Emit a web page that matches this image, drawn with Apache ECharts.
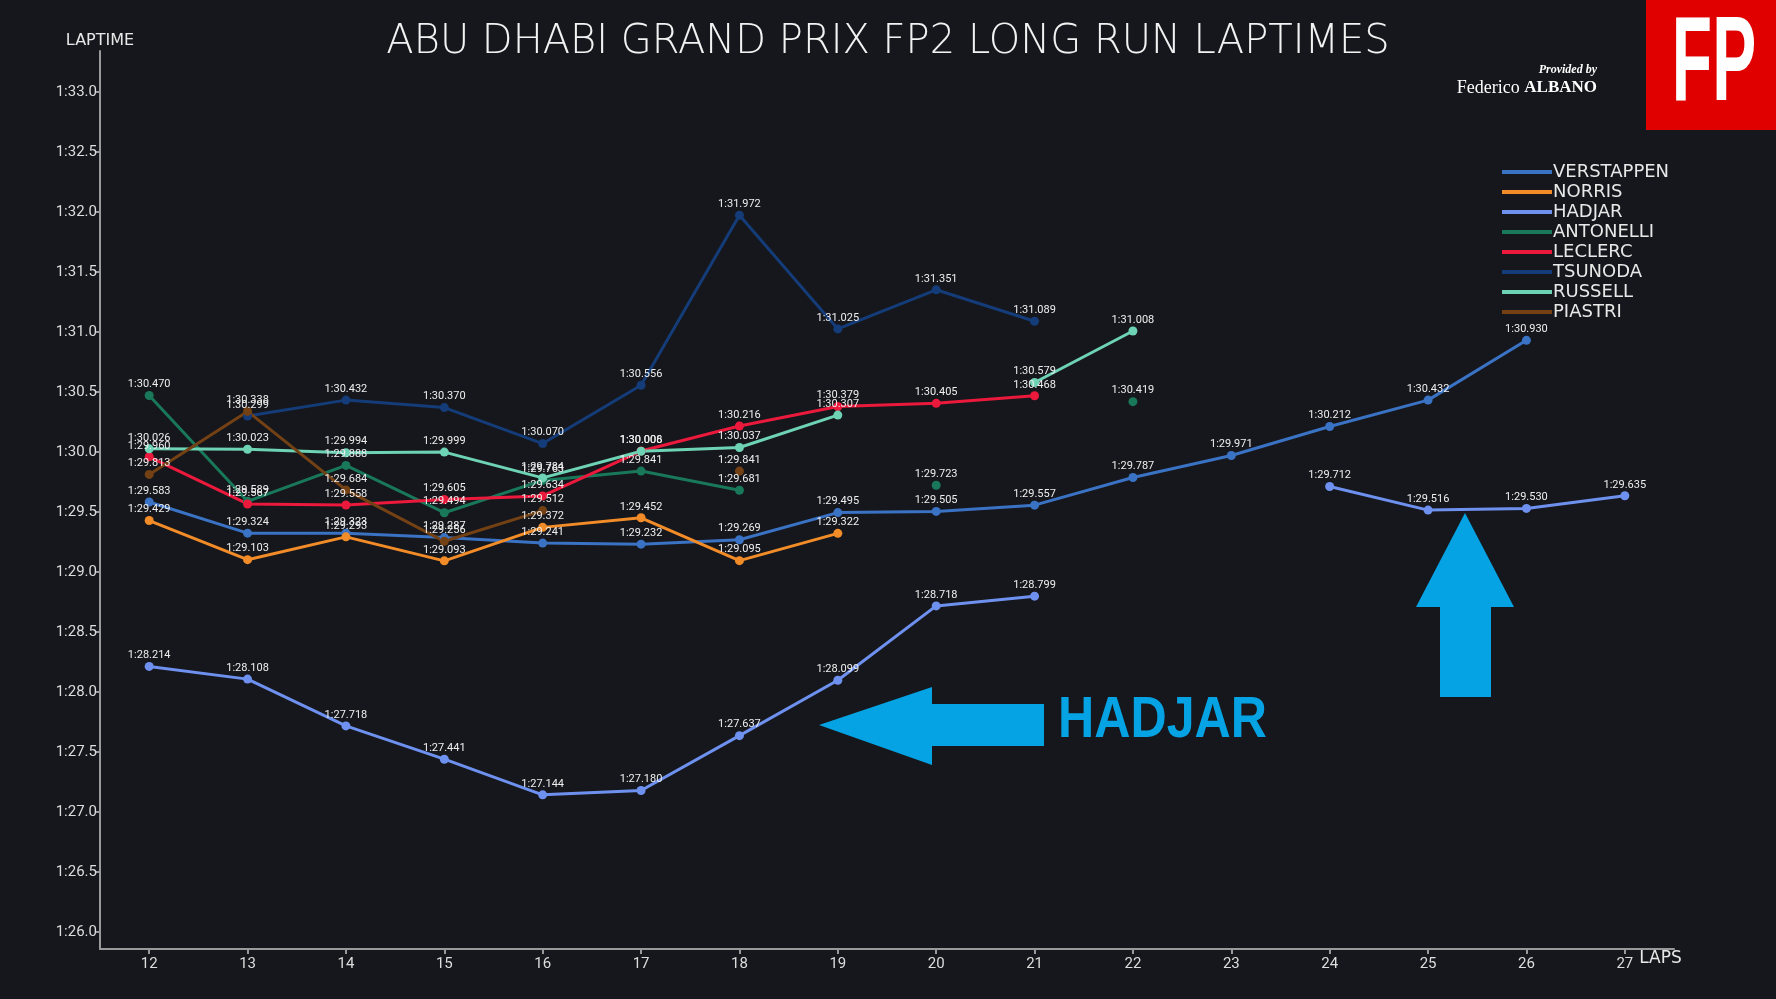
<!DOCTYPE html>
<html>
<head>
<meta charset="utf-8">
<script src="https://cdn.jsdelivr.net/npm/echarts@6/dist/echarts.min.js"></script>
<style>
html,body{margin:0;padding:0;background:#16171c;}
#chart{width:1776px;height:999px;}
</style>
</head>
<body>
<div id="chart"></div>
<script>
const laps = [12, 13, 14, 15, 16, 17, 18, 19, 20, 21, 22, 23, 24, 25, 26, 27];
const drivers = ['VERSTAPPEN', 'NORRIS', 'HADJAR', 'ANTONELLI', 'LECLERC', 'TSUNODA', 'RUSSELL', 'PIASTRI'];
const verstappen = [89.583, 89.324, 89.323, 89.287, 89.241, 89.232, 89.269, 89.495, 89.505, 89.557, 89.787, 89.971, 90.212, 90.432, 90.930, null];
const norris     = [89.429, 89.103, 89.293, 89.093, 89.372, 89.452, 89.095, 89.322, null, null, null, null, null, null, null, null];
const hadjar     = [88.214, 88.108, 87.718, 87.441, 87.144, 87.180, 87.637, 88.099, 88.718, 88.799, null, null, 89.712, 89.516, 89.530, 89.635];
const antonelli  = [90.470, 89.589, 89.888, 89.494, 89.763, 89.841, 89.681, null, 89.723, null, 90.419, null, null, null, null, null];
const leclerc    = [89.960, 89.567, 89.558, 89.605, 89.634, 90.008, 90.216, 90.379, 90.405, 90.468, null, null, null, null, null, null];
const tsunoda    = [null, 90.299, 90.432, 90.370, 90.070, 90.556, 91.972, 91.025, 91.351, 91.089, null, null, null, null, null, null];
const russell    = [90.026, 90.023, 89.994, 89.999, 89.784, 90.006, 90.037, 90.307, null, 90.579, 91.008, null, null, null, null, null];
const piastri    = [89.813, 90.338, 89.684, 89.256, 89.512, null, 89.841, null, null, null, null, null, null, null, null, null];
const yTicks = [86, 86.5, 87, 87.5, 88, 88.5, 89, 89.5, 90, 90.5, 91, 91.5, 92, 92.5, 93];

const seriesValues = [verstappen, norris, hadjar, antonelli, leclerc, tsunoda, russell, piastri];
const colors = ['#3a72c4', '#f28c28', '#6e91f0', '#19785a', '#eb193c', '#143c78', '#6ed2b4', '#734114'];

function fmtLap(v, dec) {
  const m = Math.floor(v / 60);
  const s = v - m * 60;
  let str = s.toFixed(dec);
  if (s < 10) str = '0' + str;
  return m + ':' + str;
}

const chart = echarts.init(document.getElementById('chart'), null, {renderer: 'canvas'});

const series = drivers.map((name, i) => ({
  name: name,
  type: 'line',
  data: laps.map((l, j) => [l, seriesValues[i][j] == null ? '-' : seriesValues[i][j]]),
  connectNulls: false,
  symbol: 'circle',
  symbolSize: 9,
  showAllSymbol: true,
  lineStyle: {width: 3, color: colors[i]},
  itemStyle: {color: colors[i]},
  emphasis: {disabled: true},
  label: {
    show: true,
    position: 'top',
    distance: 1,
    color: '#eeeeee',
    fontSize: 11,
    fontFamily: 'Roboto',
    formatter: p => fmtLap(p.value[1], 3)
  },
  animation: false
}));

const option = {
  backgroundColor: '#16171c',
  animation: false,
  color: colors,
  title: {
    text: 'ABU DHABI GRAND PRIX FP2 LONG RUN LAPTIMES',
    left: 'center',
    top: 18,
    textStyle: {color: '#f2f2f2', fontSize: 40, fontWeight: 300, fontFamily: "'DejaVu Sans ExtraLight', 'DejaVu Sans'"}
  },
  legend: {
    orient: 'vertical',
    left: 1497,
    top: 157,
    icon: 'rect',
    itemWidth: 50,
    itemHeight: 4,
    itemGap: 0,
    data: drivers,
    textStyle: {color: '#e8e8e8', fontSize: 18, fontFamily: 'DejaVu Sans', lineHeight: 20, padding: [0, 0, 0, -4]}
  },
  grid: {left: 100, right: 102, top: 51, bottom: 50, containLabel: false},
  xAxis: {
    type: 'value',
    min: 11.5,
    max: 27.5,
    name: 'LAPS',
    nameLocation: 'end',
    nameGap: 0,
    nameTextStyle: {color: '#e8e8e8', fontSize: 17, fontFamily: 'DejaVu Sans', align: 'right', verticalAlign: 'top', padding: [1, 12, 0, 0]},
    axisLine: {show: true, lineStyle: {color: '#9a9a9a', width: 2}},
    axisTick: {show: true, length: 5, lineStyle: {color: '#9a9a9a', width: 2}, customValues: laps},
    axisLabel: {color: '#dddddd', fontSize: 15, fontFamily: 'Roboto', margin: 8, customValues: laps, formatter: v => String(v)},
    splitLine: {show: false}
  },
  yAxis: {
    type: 'value',
    min: 85.86,
    max: 93.34,
    name: 'LAPTIME',
    nameLocation: 'end',
    nameGap: 2,
    nameTextStyle: {color: '#e8e8e8', fontSize: 16, fontFamily: 'DejaVu Sans', align: 'center'},
    axisLine: {show: true, lineStyle: {color: '#9a9a9a', width: 2}},
    axisTick: {show: true, length: 5, lineStyle: {color: '#9a9a9a', width: 2}, customValues: yTicks},
    axisLabel: {color: '#dddddd', fontSize: 15, fontFamily: 'Roboto', margin: 3, customValues: yTicks, formatter: v => fmtLap(v, 1)},
    splitLine: {show: false}
  },
  graphic: [
    {type: 'rect', shape: {x: 1646, y: 0, width: 130, height: 130}, style: {fill: '#e00000'}, z: 10},
    {type: 'text', x: 1714, y: 67, scaleX: 0.55, z: 11,
      style: {text: 'FP', fill: '#ffffff', font: "bold 120px 'Liberation Sans', Arial, sans-serif", align: 'center', verticalAlign: 'middle'}},
    {type: 'text', x: 1597, y: 70, z: 11,
      style: {text: 'Provided by', fill: '#ffffff', font: "italic bold 12px 'Liberation Serif', serif", align: 'right', verticalAlign: 'middle'}},
    {type: 'text', x: 1597, y: 88, z: 11,
      style: {text: '{a|Federico }{b|ALBANO}', fill: '#ffffff', align: 'right', verticalAlign: 'middle',
        rich: {a: {fontFamily: 'Liberation Serif', fontSize: 18, fill: '#ffffff', color: '#ffffff'},
               b: {fontFamily: 'Liberation Serif', fontSize: 17, fontWeight: 'bold', fill: '#ffffff', color: '#ffffff'}}}},
    {type: 'polygon', z: 20, shape: {points: [[819,725],[932,687],[932,704],[1044,704],[1044,746],[932,746],[932,765]]}, style: {fill: '#05a3e3'}},
    {type: 'polygon', z: 20, shape: {points: [[1465,513],[1514,607],[1491,607],[1491,697],[1440,697],[1440,607],[1416,607]]}, style: {fill: '#05a3e3'}},
    {type: 'text', x: 1058, y: 721, scaleX: 0.88, z: 20,
      style: {text: 'HADJAR', fill: '#05a3e3', font: "bold 57px 'Liberation Sans', Arial, sans-serif", align: 'left', verticalAlign: 'middle'}}
  ],
  series: series
};

chart.setOption(option);
</script>
</body>
</html>
